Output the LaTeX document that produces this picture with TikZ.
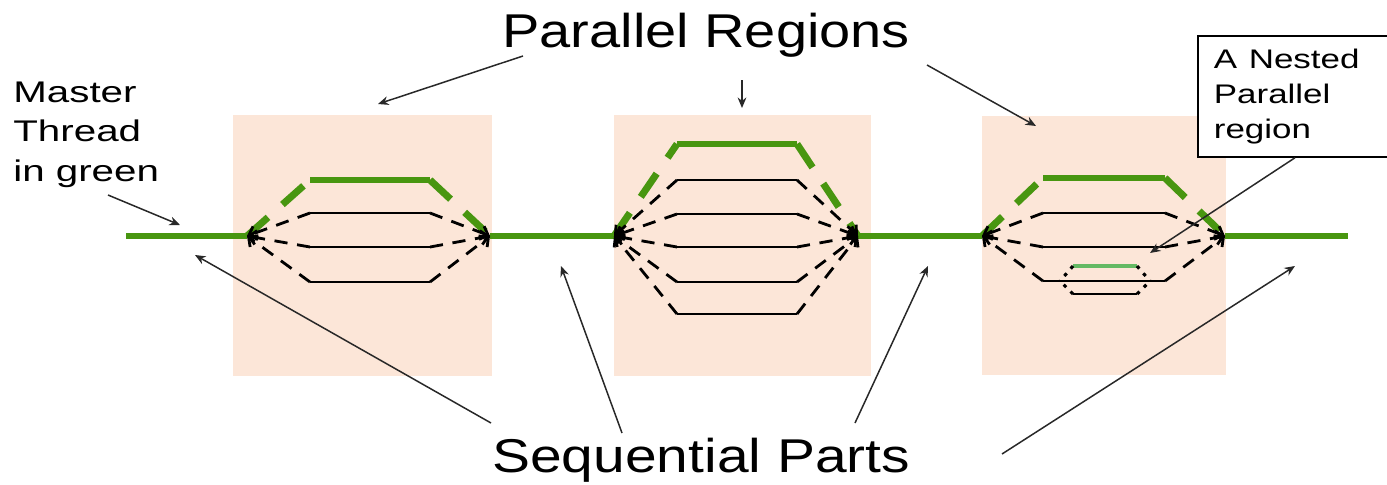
\documentclass[tikz,border=0pt]{standalone}
\usepackage{fontspec}
\setmainfont{Liberation Sans}
\usetikzlibrary{arrows.meta}
\definecolor{mgreen}{RGB}{72,150,16}
\definecolor{lgreen}{RGB}{100,185,100}
\definecolor{peach}{RGB}{252,230,216}
\definecolor{ptr}{RGB}{40,40,40}
\newcommand{\stretchx}[2]{\scalebox{#1}[1]{#2}}
\begin{document}
\begin{tikzpicture}[x=0.02cm,y=-0.02cm,
  region/.style={fill=peach, draw=none},
  master/.style={draw=mgreen, line width=3.7pt},
  mdash/.style={draw=mgreen, line width=4pt, dash pattern=on 16pt off 11pt},
  thr/.style={draw=black, line width=1.7pt},
  tdash/.style={draw=black, line width=1.6pt, dash pattern=on 7.5pt off 5.5pt, -{Straight Barb[length=4pt,width=8pt]}},
  nthr/.style={draw=lgreen, line width=1.9pt},
  ndash/.style={draw=black, line width=1.8pt, dash pattern=on 2pt off 3.5pt},
  pointer/.style={draw=ptr, line width=0.85pt, -{Stealth[length=6pt,width=5pt]}},
  big/.style={inner sep=0pt, anchor=base west, font=\fontsize{27}{32}\selectfont},
  small/.style={inner sep=0pt, anchor=base west, font=\fontsize{17}{22.7}\selectfont},
  boxlabel/.style={draw=black, line width=1pt, anchor=north west, minimum width=4.46cm, minimum height=2.42cm, inner xsep=0.32cm, inner ysep=0pt, text width=3.82cm, align=left, fill=white, font=\fontsize{15.3}{20}\selectfont},
]
\clip (0,0) rectangle (1387,484);
\useasboundingbox (0,0) rectangle (1387,484);

% parallel region backgrounds
\fill[region] (233,115) rectangle (492,376);
\fill[region] (614,115) rectangle (871,376);
\fill[region] (982,116) rectangle (1226,375);

% fork / join points
\coordinate (s0) at (126,236);
\coordinate (f1) at (247,236); \coordinate (j1) at (490,236);
\coordinate (f2) at (614,236); \coordinate (j2) at (858,236);
\coordinate (f3) at (982,236); \coordinate (j3) at (1225,236);
\coordinate (e0) at (1348,236);

% master thread (sequential parts)
\draw[master] (s0) -- (f1);
\draw[master] (j1) -- (f2);
\draw[master] (j2) -- (f3);
\draw[master] (j3) -- (e0);

% region 1
\draw[mdash] (f1) -- (310,180);
\draw[master] (310,180) -- (430,180);
\draw[mdash] (430,180) -- (j1);
\foreach \y in {213,247,282} {
  \draw[thr] (310,\y) -- (430,\y);
  \draw[tdash] (310,\y) -- (f1);
  \draw[tdash] (430,\y) -- (j1);
}

% region 2
\draw[mdash] (f2) -- (677,144);
\draw[master] (677,144) -- (797,144);
\draw[mdash] (797,144) -- (j2);
\foreach \y in {180,214,247,282,314} {
  \draw[thr] (677,\y) -- (797,\y);
  \draw[tdash] (677,\y) -- (f2);
  \draw[tdash] (797,\y) -- (j2);
}

% region 3
\draw[mdash] (f3) -- (1043,178);
\draw[master] (1043,178) -- (1165,178);
\draw[mdash] (1165,178) -- (j3);
\foreach \y in {213,247,281} {
  \draw[thr] (1043,\y) -- (1165,\y);
  \draw[tdash] (1043,\y) -- (f3);
  \draw[tdash] (1165,\y) -- (j3);
}

% nested parallel region
\coordinate (nf) at (1060,281); \coordinate (nj) at (1150,281);
\draw[nthr] (1073,266) -- (1137,266);
\draw[thr] (1073,294) -- (1137,294);
\draw[ndash] (1073,266) -- (nf);
\draw[ndash] (1073,294) -- (nf);
\draw[ndash] (1137,266) -- (nj);
\draw[ndash] (1137,294) -- (nj);

% labels
\node[big] (pr) at (502,47) {\stretchx{1.18}{Parallel Regions}};
\node[big] (sp) at (492,472) {\stretchx{1.2}{Sequential Parts}};
\node[small] (mt) at (13,102) {\stretchx{1.35}{\begin{tabular}[t]{@{}l@{}}Master\\Thread\\in green\end{tabular}}};
\node[boxlabel] (nest) at (1197,35) {\stretchx{1.3}{\begin{tabular}[t]{@{}l@{}}A Nested\\Parallel\\region\end{tabular}}};

% pointer arrows
\coordinate (pr1) at (523,56); \coordinate (pr2) at (742,80); \coordinate (pr3) at (927,65);
\coordinate (r1) at (378,104); \coordinate (r2) at (742,108); \coordinate (r3) at (1036,126);
\draw[pointer] (pr1) -- (r1);
\draw[pointer] (pr2) -- (r2);
\draw[pointer] (pr3) -- (r3);

\coordinate (mt1) at (108,195); \coordinate (mtt) at (180,225);
\draw[pointer] (mt1) -- (mtt);

\coordinate (sp1) at (491,423); \coordinate (sp2) at (622,433); \coordinate (sp3) at (855,423); \coordinate (sp4) at (1002,454);
\coordinate (q1) at (195,255); \coordinate (q2) at (561,266); \coordinate (q3) at (928,266); \coordinate (q4) at (1295,266);
\draw[pointer] (sp1) -- (q1);
\draw[pointer] (sp2) -- (q2);
\draw[pointer] (sp3) -- (q3);
\draw[pointer] (sp4) -- (q4);

\coordinate (nt) at (1150,253);
\draw[pointer] (nest.south west) ++(98,0) -- (nt);
\end{tikzpicture}
\end{document}
